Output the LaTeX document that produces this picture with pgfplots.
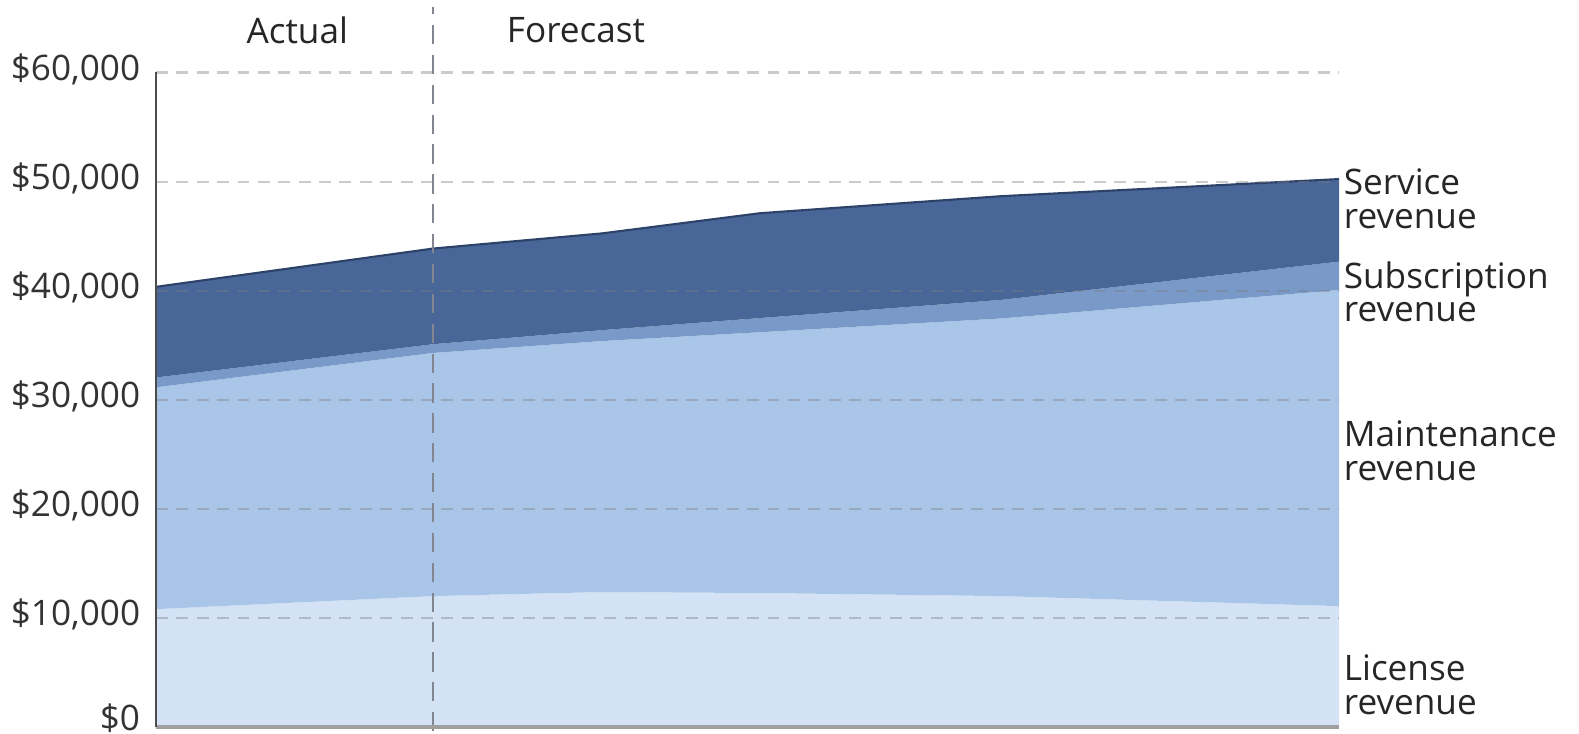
\documentclass[border=0pt]{standalone}
\usepackage{pgfplots}
\pgfplotsset{compat=1.18}
\usepackage{fontspec}
\setmainfont{Open Sans}

\definecolor{service}{RGB}{72,103,152}
\definecolor{serviceedge}{RGB}{45,66,104}
\definecolor{subscr}{RGB}{121,153,201}
\definecolor{maint}{RGB}{169,198,232}
\definecolor{license}{RGB}{211,226,245}
\definecolor{gridc}{RGB}{125,125,130}
\definecolor{divider}{RGB}{130,134,145}

\tikzset{serieslabel/.style={anchor=west, align=left, text=black!85,
    font=\fontsize{10}{9.6}\selectfont, inner sep=0pt}}

\begin{document}
\begin{tikzpicture}
\useasboundingbox (-1.56,-0.07) rectangle (14.23,7.27);
\begin{axis}[
  at={(0,0)}, anchor=south west,
  scale only axis,
  width=11.83cm, height=6.545cm,
  xmin=0, xmax=4.27, ymin=0, ymax=60000,
  axis lines=left,
  x axis line style={-, draw=gray!75, line width=0.9pt},
  y axis line style={-, draw=black!70, line width=0.7pt},
  xtick=\empty,
  ytick={0,10000,20000,30000,40000,50000,60000},
  major tick length=0pt,
  ymajorgrids,
  grid style={dash pattern=on 3.4pt off 2.4pt, draw=gridc, draw opacity=0.4, line width=0.6pt},
  axis on top,
  /pgf/number format/assume math mode=true,
  /pgf/number format/1000 sep={,},
  scaled y ticks=false,
  yticklabel={\ifnum\ticknum=0 \raisebox{3.5pt}{\$0}\else\$\pgfmathprintnumber{\tick}\fi},
  yticklabel style={font=\fontsize{10}{12}\selectfont, text=black!80, xshift=-1pt, yshift=1pt, inner ysep=0.5pt},
  clip=false,
]
% license revenue
\addplot[fill=license, draw=none, stack plots=y] coordinates {
  (0,10800) (1,12000) (1.61,12370) (2.18,12280) (3.05,12000) (4.27,11080)
} \closedcycle;
% maintenance revenue
\addplot[fill=maint, draw=none, stack plots=y] coordinates {
  (0,20340) (1,22290) (1.61,23010) (2.18,23910) (3.05,25450) (4.27,28980)
} \closedcycle;
% subscription revenue
\addplot[fill=subscr, draw=none, stack plots=y] coordinates {
  (0,900) (1,800) (1.61,1000) (2.18,1300) (3.05,1700) (4.27,2600)
} \closedcycle;
% service revenue
\addplot[fill=service, draw=none, stack plots=y] coordinates {
  (0,8310) (1,8770) (1.61,8870) (2.18,9610) (3.05,9510) (4.27,7570)
} \closedcycle;
% outline of the total revenue
\addplot[draw=serviceedge, line width=0.6pt, stack plots=false] coordinates {
  (0,40350) (1,43860) (1.61,45250) (2.18,47100) (3.05,48660) (4.27,50230)
};

% boundary between actual and forecast periods
\draw[draw=divider, line width=0.6pt, dash pattern=on 5.5pt off 3pt]
  (axis cs:1,-400) -- (axis cs:1,66000);

\node[font=\fontsize{10}{12}\selectfont, text=black!85] at (axis cs:0.51,63900) {Actual};
\node[font=\fontsize{10}{12}\selectfont, text=black!85] at (axis cs:1.516,63900) {Forecast};

\node[serieslabel] at (axis cs:4.285,48390) {Service\\revenue};
\node[serieslabel] at (axis cs:4.285,39890) {Subscription\\revenue};
\node[serieslabel] at (axis cs:4.285,25300) {Maintenance\\revenue};
\node[serieslabel] at (axis cs:4.285,3880) {License\\revenue};
\end{axis}
\end{tikzpicture}
\end{document}
